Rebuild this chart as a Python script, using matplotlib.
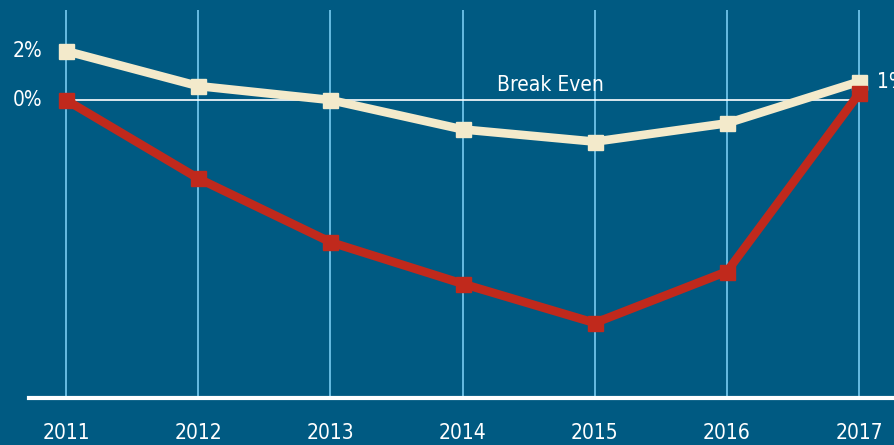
import matplotlib
matplotlib.use("Agg")
import matplotlib.pyplot as plt
from matplotlib import font_manager

years = [2011, 2012, 2013, 2014, 2015, 2016, 2017]
cream_values = [2.0, 0.57, 0.0, -1.2, -1.7, -0.95, 0.75]
red_values = [0.0, -3.2, -5.8, -7.5, -9.1, -7.0, 0.27]
ytick_vals = [2, 0]
ytick_labels = ["2%", "0%"]
end_label = "1%"
break_label = "Break Even"

fonts = [(f.name, f.stretch) for f in font_manager.fontManager.ttflist]
names = {n for n, _ in fonts}
if "Liberation Sans Narrow" in names:
    fp = dict(family="Liberation Sans Narrow")
elif any(n == "DejaVu Sans" and s == "condensed" for n, s in fonts):
    fp = dict(family="DejaVu Sans", stretch="condensed")
else:
    fp = dict(family="Roboto")

BG = "#005A82"
GRID = "#6EC3E8"
CREAM = "#F3EACB"
RED = "#C0291C"

W, H = 895, 445
fig = plt.figure(figsize=(W / 100, H / 100), dpi=100, facecolor=BG)
left_px, bottom_px, top_px = 29, 398, 10
ax = fig.add_axes([left_px / W, (H - bottom_px) / H, 1 - left_px / W, (bottom_px - top_px) / H])
ax.set_facecolor(BG)
for s in ax.spines.values():
    s.set_visible(False)

px_per_year = 132.2
x0 = 2011 - (66 - left_px) / px_per_year
x1 = 2011 + (W - 66) / px_per_year
ax.set_xlim(x0, x1)
px_per_pct = 24.5
ax.set_ylim(-(bottom_px - 100) / px_per_pct, (100 - top_px) / px_per_pct)

for y in years:
    ax.axvline(y, color=GRID, lw=1.3, zorder=1)
ax.axhline(ax.get_ylim()[0], color="white", lw=3, zorder=2, clip_on=False)
ax.plot([years[0], years[-1]], [0, 0], color="white", lw=1.2, zorder=2)

ax.plot(years, cream_values, color=CREAM, lw=6.2, marker="s", ms=10.8,
        solid_joinstyle="miter", zorder=4)
ax.plot(years, red_values, color=RED, lw=6.2, marker="s", ms=10.8,
        solid_joinstyle="miter", zorder=5)

ax.set_xticks([])
ax.set_yticks([])

for v, lab in zip(ytick_vals, ytick_labels):
    ax.text(x0 + (42 - left_px) / px_per_year, v, lab, color="white", fontsize=15,
            ha="right", va="center", clip_on=False, **fp)
for y in years:
    ax.text(y, ax.get_ylim()[0] - 35 / px_per_pct, str(y), color="white", fontsize=15,
            ha="center", va="center", clip_on=False, **fp)
ax.text(2017 + 18 / px_per_year, cream_values[-1], end_label, color="white", fontsize=15,
        ha="left", va="center", clip_on=False, **fp)
ax.text(2011 + (550 - 66) / px_per_year, 0.62, break_label, color="white", fontsize=15,
        ha="center", va="center", **fp)

fig.savefig("out.png", dpi=100, facecolor=BG)
